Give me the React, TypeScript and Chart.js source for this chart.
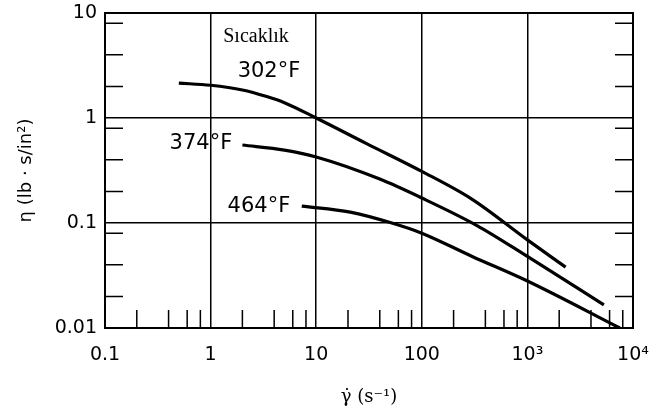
import React, { useEffect, useRef } from 'react';
import { Chart, registerables } from 'chart.js';

Chart.register(...registerables);

// Axis ticks
const xTickValues = [0.1, 1, 10, 100, 1000, 10000];
const xTickLabels = ['0.1', '1', '10', '100', '10³', '10⁴'];
const yTickValues = [0.01, 0.1, 1, 10];
const yTickLabels = ['0.01', '0.1', '1', '10'];
const xMinorTicks = [0.2, 0.4, 0.6, 0.8, 2, 4, 6, 8, 20, 40, 60, 80, 200, 400, 600, 800, 2000, 4000, 6000, 8000];
const yMinorTicks = [0.02, 0.04, 0.08, 0.2, 0.4, 0.8, 2, 4, 8];

// Series: shear rate (1/s) and viscosity (lb·s/in²)
const rate302 = [0.5, 1, 2, 3.4, 5, 10, 30, 100, 300, 1000, 2300];
const visc302 = [2.15, 2.05, 1.85, 1.6, 1.4, 1.0, 0.57, 0.31, 0.168, 0.069, 0.038];
const rate374 = [2, 5, 10, 40, 100, 330, 1000, 5300];
const visc374 = [0.553, 0.495, 0.425, 0.262, 0.173, 0.095, 0.048, 0.0166];
const rate464 = [7.3, 21, 52, 100, 300, 1000, 7500];
const visc464 = [0.145, 0.127, 0.1, 0.08, 0.048, 0.028, 0.01];

// Annotation labels (placed in data coordinates)
const noteTexts = ['Sıcaklık', '302°F', '374°F', '464°F'];
const noteX = [2.69, 3.57, 0.81, 2.87];
const noteY = [5.9, 2.74, 0.565, 0.145];
const noteFonts = ['20px "Liberation Serif"', '21px "DejaVu Sans"', '21px "DejaVu Sans"', '21px "DejaVu Sans"'];

const framePlugin = {
  id: 'frameAndNotes',
  afterDatasetsDraw(chart: any) {
    const { ctx, chartArea, scales } = chart;
    const xs = scales.x;
    const ys = scales.y;
    const tickLen = 18;
    ctx.save();
    ctx.strokeStyle = '#000';
    ctx.lineWidth = 1.5;
    ctx.beginPath();
    yMinorTicks.forEach((v) => {
      const py = ys.getPixelForValue(v);
      ctx.moveTo(chartArea.left, py);
      ctx.lineTo(chartArea.left + tickLen, py);
      ctx.moveTo(chartArea.right, py);
      ctx.lineTo(chartArea.right - tickLen, py);
    });
    xMinorTicks.forEach((v) => {
      const px = xs.getPixelForValue(v);
      ctx.moveTo(px, chartArea.bottom);
      ctx.lineTo(px, chartArea.bottom - tickLen);
    });
    ctx.stroke();
    ctx.lineWidth = 2;
    ctx.strokeRect(chartArea.left, chartArea.top, chartArea.right - chartArea.left, chartArea.bottom - chartArea.top);
    ctx.fillStyle = '#000';
    ctx.textAlign = 'center';
    ctx.textBaseline = 'middle';
    noteTexts.forEach((t, i) => {
      ctx.font = noteFonts[i];
      const px = xs.getPixelForValue(noteX[i]);
      const py = ys.getPixelForValue(noteY[i]);
      ctx.fillText(t, px, py);
    });
    ctx.restore();
  },
};

const lineStyle = {
  borderColor: '#000',
  backgroundColor: '#000',
  borderWidth: 3.2,
  pointRadius: 0,
  fill: false,
  cubicInterpolationMode: 'monotone' as const,
};

export default function App() {
  const ref = useRef<HTMLCanvasElement | null>(null);

  useEffect(() => {
    document.body.style.margin = '0';
    if (!ref.current) return;
    const chart = new Chart(ref.current, {
      type: 'line',
      data: {
        datasets: [
          { label: '302°F', data: rate302.map((x, i) => ({ x, y: visc302[i] })), ...lineStyle },
          { label: '374°F', data: rate374.map((x, i) => ({ x, y: visc374[i] })), ...lineStyle },
          { label: '464°F', data: rate464.map((x, i) => ({ x, y: visc464[i] })), ...lineStyle },
        ],
      },
      options: {
        animation: false,
        responsive: false,
        devicePixelRatio: 1,
        layout: { padding: { top: 13, right: 17, left: 0, bottom: 0 } },
        plugins: { legend: { display: false }, tooltip: { enabled: false } },
        scales: {
          x: {
            type: 'logarithmic',
            min: 0.1,
            max: 10000,
            afterBuildTicks: (s: any) => {
              s.ticks = xTickValues.map((v) => ({ value: v }));
            },
            afterFit: (s: any) => {
              s.height = 86;
              s.paddingLeft = 0;
              s.paddingRight = 0;
            },
            ticks: {
              callback: (v: any) => xTickLabels[xTickValues.indexOf(Number(v))],
              font: { family: 'DejaVu Sans', size: 19 },
              color: '#000',
              padding: 16,
              maxRotation: 0,
              autoSkip: false,
            },
            grid: { color: '#000', lineWidth: 1.5, drawTicks: false },
            border: { display: true, color: '#000', width: 2 },
            title: {
              display: true,
              text: 'γ̇ (s⁻¹)',
              font: { family: 'DejaVu Serif', size: 18 },
              color: '#000',
              padding: { top: 0, bottom: 6 },
            },
          },
          y: {
            type: 'logarithmic',
            min: 0.01,
            max: 10,
            afterBuildTicks: (s: any) => {
              s.ticks = yTickValues.map((v) => ({ value: v }));
            },
            afterFit: (s: any) => {
              s.width = 105;
              s.paddingTop = 0;
              s.paddingBottom = 0;
            },
            ticks: {
              callback: (v: any) => yTickLabels[yTickValues.indexOf(Number(v))],
              font: { family: 'DejaVu Sans', size: 19 },
              color: '#000',
              padding: 8,
              autoSkip: false,
            },
            grid: { color: '#000', lineWidth: 1.5, drawTicks: false },
            border: { display: true, color: '#000', width: 2 },
            title: {
              display: true,
              text: 'η (lb · s/in²)',
              font: { family: 'DejaVu Sans', size: 18 },
              color: '#000',
              padding: { top: 16, bottom: 0 },
            },
          },
        },
      },
      plugins: [framePlugin],
    } as any);
    return () => chart.destroy();
  }, []);

  return (
    <div style={{ position: 'absolute', left: 0, top: 0, width: 650, height: 414, background: '#fff' }}>
      <canvas ref={ref} width={650} height={414} style={{ width: 650, height: 414 }} />
    </div>
  );
}
